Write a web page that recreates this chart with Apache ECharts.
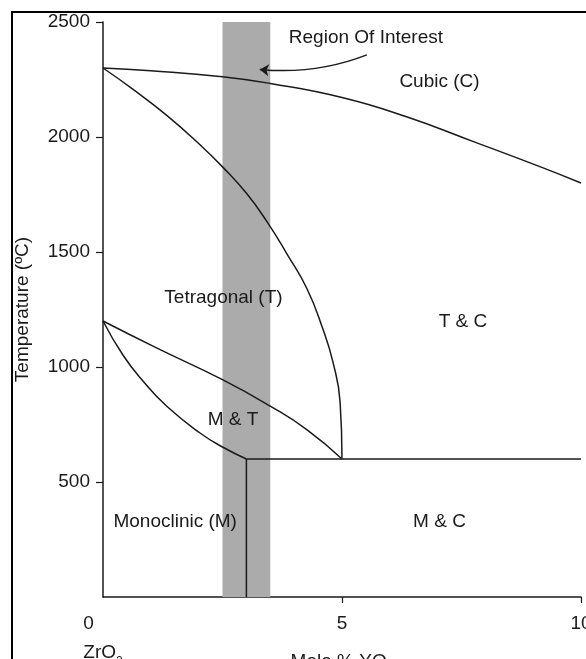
<!DOCTYPE html>
<html>
<head>
<meta charset="utf-8">
<script src="https://cdn.jsdelivr.net/npm/echarts@6/dist/echarts.min.js"></script>
<style>
  html, body { margin: 0; padding: 0; background: #fff; }
  #chart { width: 586px; height: 659px; }
</style>
</head>
<body>
<div id="chart"></div>
<script>
// ZrO2 – YO1.5 phase diagram (low-yttria end)
const xTicks = [0, 5, 10];
const xTickMarks = [5, 10];
const yTicks = [500, 1000, 1500, 2000, 2500];

// Phase boundaries: [mole % YO1.5, temperature °C]
const cubicBoundary = [[0, 2300], [1, 2288], [2.5, 2262], [3.5, 2233], [5, 2172], [6.35, 2088], [7.75, 1980], [9.14, 1871], [10, 1800]];
const tetragonalBoundary = [[0, 2300], [0.63, 2207], [1.34, 2093], [2.03, 1966], [2.51, 1868], [3.01, 1753], [3.43, 1632], [3.85, 1491], [4.27, 1339], [4.6, 1165], [4.81, 1022], [4.96, 848], [5, 600]];
const mtUpperBoundary = [[0, 1200], [1.13, 1082], [2.51, 944], [3.49, 831], [4.27, 727], [5, 600]];
const mtLowerBoundary = [[0, 1200], [0.42, 1051], [0.84, 938], [1.34, 828], [2.03, 713], [2.51, 651], [3, 600]];
const mcVertical = [[3, 0], [3, 600]];
const eutectoidLine = [[3, 600], [10, 600]];

// Highlighted composition band and its pointer
const roiRange = [2.5, 3.5];
const roiArrow = [[5.52, 2357], [3.28, 2294]];

// Phase field labels
const phaseNames = ['Region Of Interest', 'Cubic (C)', 'Tetragonal (T)', 'T & C', 'M & T', 'Monoclinic (M)', 'M & C'];
const phaseX = [5.5, 7.04, 2.52, 7.53, 2.72, 1.51, 7.04];
const phaseY = [2430, 2239, 1300, 1197, 770, 327, 327];

const FONT = "'Liberation Sans', Arial, sans-serif";
const INK = '#1a1a1a';

function boundary(data) {
  return {
    type: 'line',
    data: data,
    smooth: 0.5,
    showSymbol: false,
    silent: true,
    z: 3,
    lineStyle: { color: INK, width: 1.5 }
  };
}

const chart = echarts.init(document.getElementById('chart'), null, { renderer: 'canvas' });

chart.setOption({
  animation: false,
  backgroundColor: '#fff',
  textStyle: { fontFamily: FONT },
  grid: { left: 103, right: 5, top: 22, bottom: 62, containLabel: false, outerBoundsMode: 'none' },
  graphic: [{
    type: 'polyline',
    shape: { points: [[12, 659], [12, 12], [586, 12]] },
    style: { stroke: '#000', lineWidth: 2, fill: null },
    silent: true
  }],
  xAxis: {
    type: 'value',
    min: 0, max: 10, interval: 5,
    splitLine: { show: false },
    axisLine: { show: true, lineStyle: { color: INK, width: 1.5 } },
    axisTick: { show: true, length: 6, customValues: xTickMarks, lineStyle: { color: INK, width: 1.2 } },
    axisLabel: {
      customValues: xTicks,
      margin: 12.5,
      formatter: function (v) {
        return v === 0 ? '{l|0}\n{z|ZrO}{zs|2}' : '{n|' + v + '}';
      },
      rich: {
        n: { fontSize: 19, lineHeight: 29, color: INK, fontFamily: FONT },
        l: { fontSize: 19, lineHeight: 29, color: INK, fontFamily: FONT, align: 'left' },
        z: { fontSize: 19, lineHeight: 29, color: INK, fontFamily: FONT, align: 'left' },
        zs: { fontSize: 12, lineHeight: 29, verticalAlign: 'bottom', color: INK, fontFamily: FONT, align: 'left' }
      }
    },
    name: '{a|Mole % YO}{s|1.5}',
    nameLocation: 'middle',
    nameGap: 51,
    nameMoveOverlap: false,
    nameTextStyle: {
      rich: {
        a: { fontSize: 19, lineHeight: 28, color: INK, fontFamily: FONT, padding: [0, 0, 0, 10] },
        s: { fontSize: 12, lineHeight: 28, verticalAlign: 'bottom', color: INK, fontFamily: FONT }
      }
    }
  },
  yAxis: {
    type: 'value',
    min: 0, max: 2500, interval: 500,
    splitLine: { show: false },
    axisLine: { show: true, lineStyle: { color: INK, width: 1.5 } },
    axisTick: { show: true, length: 7, customValues: yTicks, lineStyle: { color: INK, width: 1.2 } },
    axisLabel: {
      customValues: yTicks,
      margin: 13,
      fontSize: 19,
      color: INK,
      fontFamily: FONT,
      formatter: function (v) { return String(v); }
    },
    name: 'Temperature (ºC)',
    nameLocation: 'middle',
    nameGap: 71,
    nameMoveOverlap: false,
    nameTextStyle: { fontSize: 19, color: INK, fontFamily: FONT }
  },
  series: [
    {
      type: 'line',
      data: [],
      silent: true,
      z: 1,
      markArea: {
        silent: true,
        itemStyle: { color: '#ababab' },
        data: [[{ xAxis: roiRange[0], yAxis: 0 }, { xAxis: roiRange[1], yAxis: 2500 }]]
      }
    },
    boundary(cubicBoundary),
    boundary(tetragonalBoundary),
    boundary(mtUpperBoundary),
    boundary(mtLowerBoundary),
    Object.assign(boundary(mcVertical), { smooth: false }),
    Object.assign(boundary(eutectoidLine), { smooth: false }),
    {
      type: 'lines',
      coordinateSystem: 'cartesian2d',
      silent: true,
      z: 4,
      symbol: ['none', 'arrow'],
      symbolSize: 9,
      lineStyle: { color: INK, width: 1.5, curveness: 0.12, opacity: 1 },
      data: [{ coords: roiArrow }]
    },
    {
      type: 'scatter',
      silent: true,
      z: 5,
      symbolSize: 1,
      itemStyle: { color: 'rgba(0,0,0,0)', opacity: 1 },
      data: phaseNames.map((n, i) => ({ name: n, value: [phaseX[i], phaseY[i]] })),
      label: {
        show: true,
        position: 'inside',
        formatter: '{b}',
        fontSize: 19,
        color: INK,
        opacity: 1,
        textBorderWidth: 0,
        textShadowBlur: 0,
        fontFamily: FONT
      }
    }
  ]
});
</script>
</body>
</html>
